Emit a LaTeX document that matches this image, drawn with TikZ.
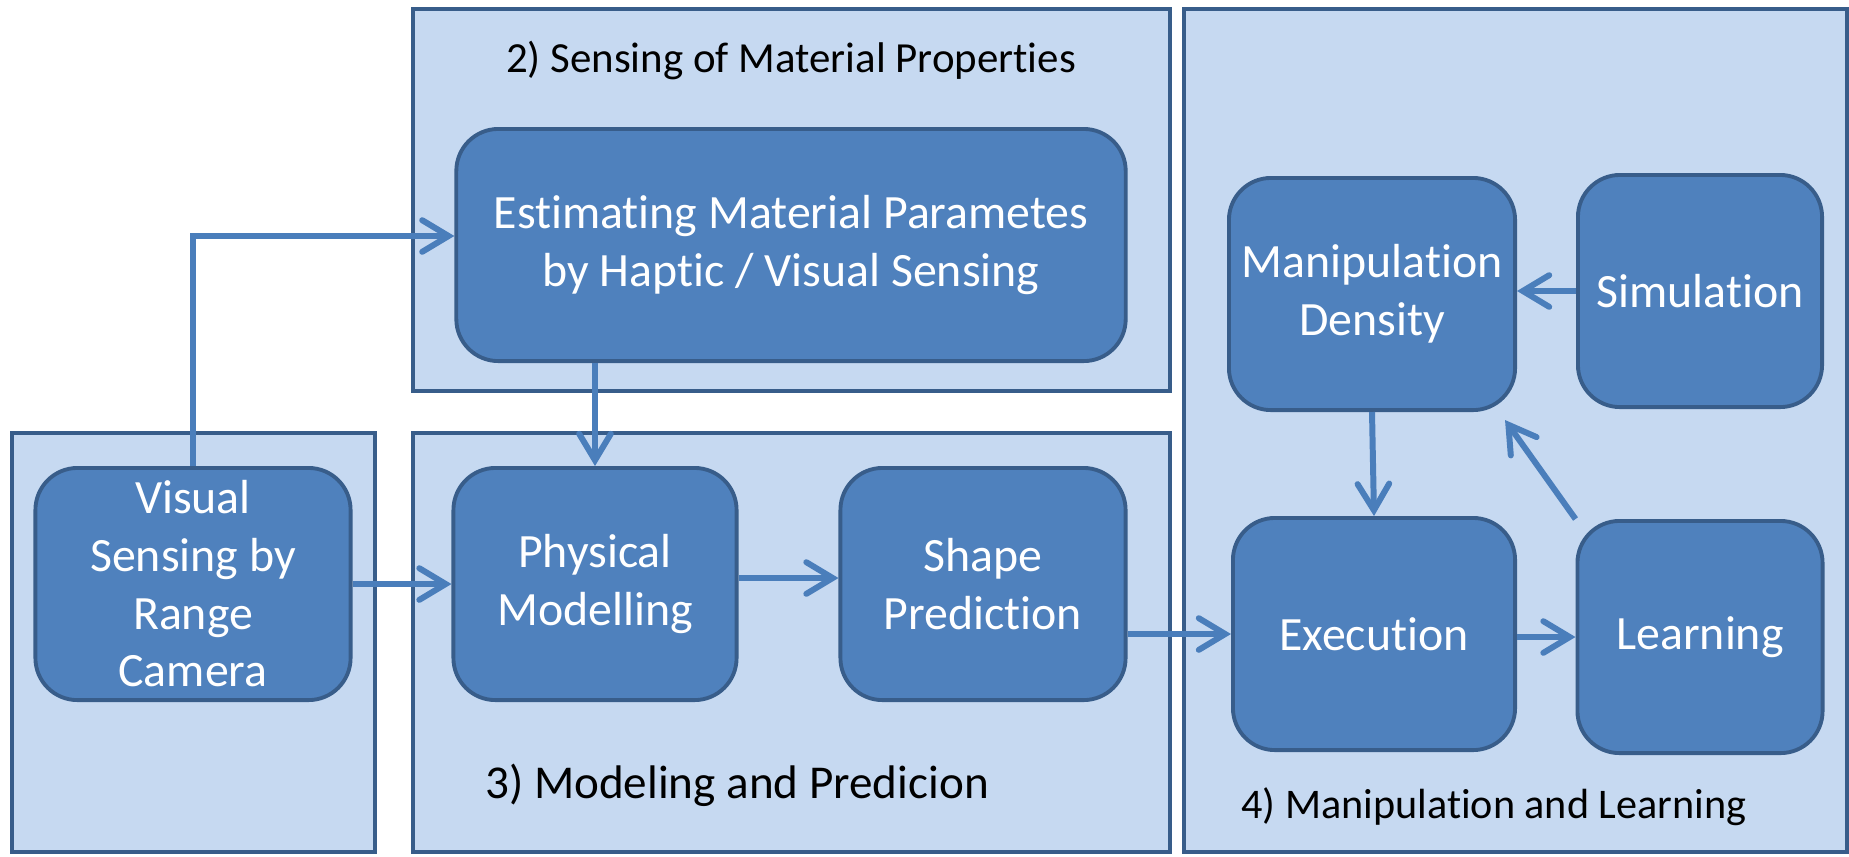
\documentclass[tikz,border=0pt]{standalone}
\usepackage{fontspec}
\setmainfont{Carlito}[Ligatures=NoCommon]
\usetikzlibrary{arrows.meta}
\definecolor{panelfill}{HTML}{C6D9F1}
\definecolor{paneldraw}{HTML}{385D8A}
\definecolor{boxfill}{HTML}{4F81BD}
\definecolor{arrowblue}{HTML}{4A7EBB}
\begin{document}
\begin{tikzpicture}[x=0.01cm,y=-0.01cm,
  panel/.style={draw=paneldraw,fill=panelfill,line width=1pt},
  block/.style={draw=paneldraw,fill=boxfill,line width=1.1pt,rounded corners=0.42cm,
    text=white,align=center,font=\fontsize{13.6}{16.4}\selectfont,
    minimum height=2.32cm,inner sep=0pt},
  flow/.style={draw=arrowblue,line width=1.7pt,
    -{Straight Barb[length=7.5pt,width=9pt,line cap=round]}},
  caption/.style={font=\fontsize{12.2}{15}\selectfont}]
\useasboundingbox (0,0) rectangle (1849,856);
% panels
\filldraw[panel] (12,433) rectangle (375,852);
\filldraw[panel] (413,9) rectangle (1170,391);
\filldraw[panel] (413,433) rectangle (1170,852);
\filldraw[panel] (1184,9) rectangle (1847,852);
\node[caption](senscap) at (791,60) {2) Sensing of Material Properties};
\node[caption,font=\fontsize{13.4}{16}\selectfont](modcap) at (737,785) {3) Modeling and Predicion};
\node[caption,anchor=west,font=\fontsize{12}{15}\selectfont](mancap) at (1229,807) {4) Manipulation and Learning};
% blocks
\node[block,minimum width=6.69cm](est) at (791,245)
  {Estimating Material Parametes\\by Haptic / Visual Sensing};
\node[block,minimum width=3.15cm](vis) at (193,584)
  {Visual\\Sensing by\\Range\\Camera};
\node[block,minimum width=2.83cm](phys) at (595,584) {Physical\\Modelling};
\node[block,minimum width=2.85cm](shape) at (983,584) {Shape\\Prediction};
\node[block,minimum width=2.86cm](mand) at (1372,294) {Manipulation\\Density};
\node[block,minimum width=2.44cm](sim) at (1700,291) {Simulation};
\node[block,minimum width=2.82cm](exec) at (1374,634) {Execution};
\node[block,minimum width=2.45cm](learn) at (1700,637) {Learning};
% connectors
\draw[flow] (vis.north) |- ([yshift=0.09cm]est.west);
\draw[flow] (phys.north |- est.south) -- (phys.north);
\draw[flow] (vis.east) -- (phys.west);
\draw[flow] ([yshift=0.06cm]phys.east) -- ([yshift=0.06cm]shape.west);
\draw[flow] (shape.east |- exec.west) -- (exec.west);
\draw[flow] (sim.west) -- (mand.east |- sim.west);
\draw[flow] (mand.south) -- (exec.north);
\draw[flow] (learn.north west) -- ([xshift=-0.12cm,yshift=-0.08cm]mand.south east);
\draw[flow] (exec.east |- learn.west) -- (learn.west);
\end{tikzpicture}
\end{document}
